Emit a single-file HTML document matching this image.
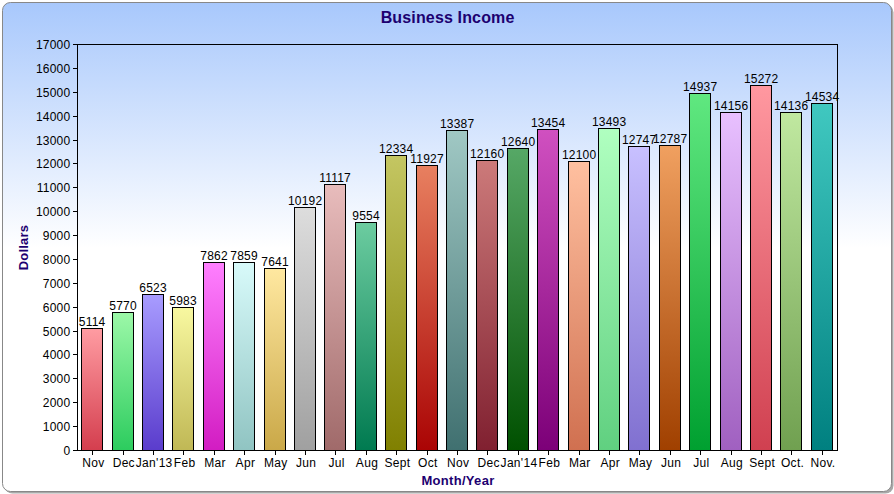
<!DOCTYPE html>
<html><head><meta charset="utf-8"><style>
html,body{margin:0;padding:0;width:894px;height:494px;overflow:hidden;background:#fff;}
svg{display:block;}
text{font-family:"Liberation Sans",sans-serif;}
</style></head><body>
<svg width="894" height="494" viewBox="0 0 894 494">
<defs>
<linearGradient id="bg" x1="0" y1="0" x2="0" y2="1" gradientUnits="objectBoundingBox">
<stop offset="0" stop-color="#a8c8fc"/>
<stop offset="0.503" stop-color="#ffffff"/>
<stop offset="1" stop-color="#ffffff"/>
</linearGradient>
<linearGradient id="g0" x1="0" y1="0" x2="0" y2="1"><stop offset="0" stop-color="#ff9ca2"/><stop offset="1" stop-color="#d43e4e"/></linearGradient>
<linearGradient id="g1" x1="0" y1="0" x2="0" y2="1"><stop offset="0" stop-color="#9cf8a8"/><stop offset="1" stop-color="#2ccc5e"/></linearGradient>
<linearGradient id="g2" x1="0" y1="0" x2="0" y2="1"><stop offset="0" stop-color="#a89cff"/><stop offset="1" stop-color="#5a3ccc"/></linearGradient>
<linearGradient id="g3" x1="0" y1="0" x2="0" y2="1"><stop offset="0" stop-color="#f8f8a0"/><stop offset="1" stop-color="#c0b855"/></linearGradient>
<linearGradient id="g4" x1="0" y1="0" x2="0" y2="1"><stop offset="0" stop-color="#ff80ff"/><stop offset="1" stop-color="#d21cc2"/></linearGradient>
<linearGradient id="g5" x1="0" y1="0" x2="0" y2="1"><stop offset="0" stop-color="#d8fafa"/><stop offset="1" stop-color="#90c4c2"/></linearGradient>
<linearGradient id="g6" x1="0" y1="0" x2="0" y2="1"><stop offset="0" stop-color="#ffe8a0"/><stop offset="1" stop-color="#caa848"/></linearGradient>
<linearGradient id="g7" x1="0" y1="0" x2="0" y2="1"><stop offset="0" stop-color="#dddddd"/><stop offset="1" stop-color="#a0a0a0"/></linearGradient>
<linearGradient id="g8" x1="0" y1="0" x2="0" y2="1"><stop offset="0" stop-color="#e8bcbc"/><stop offset="1" stop-color="#a06a6a"/></linearGradient>
<linearGradient id="g9" x1="0" y1="0" x2="0" y2="1"><stop offset="0" stop-color="#6ccca0"/><stop offset="1" stop-color="#007a50"/></linearGradient>
<linearGradient id="g10" x1="0" y1="0" x2="0" y2="1"><stop offset="0" stop-color="#c4c662"/><stop offset="1" stop-color="#808000"/></linearGradient>
<linearGradient id="g11" x1="0" y1="0" x2="0" y2="1"><stop offset="0" stop-color="#e88060"/><stop offset="1" stop-color="#aa0404"/></linearGradient>
<linearGradient id="g12" x1="0" y1="0" x2="0" y2="1"><stop offset="0" stop-color="#a0c8c4"/><stop offset="1" stop-color="#407070"/></linearGradient>
<linearGradient id="g13" x1="0" y1="0" x2="0" y2="1"><stop offset="0" stop-color="#cc7a7a"/><stop offset="1" stop-color="#802030"/></linearGradient>
<linearGradient id="g14" x1="0" y1="0" x2="0" y2="1"><stop offset="0" stop-color="#56a866"/><stop offset="1" stop-color="#005000"/></linearGradient>
<linearGradient id="g15" x1="0" y1="0" x2="0" y2="1"><stop offset="0" stop-color="#d050c0"/><stop offset="1" stop-color="#7c0078"/></linearGradient>
<linearGradient id="g16" x1="0" y1="0" x2="0" y2="1"><stop offset="0" stop-color="#ffc0a0"/><stop offset="1" stop-color="#d07050"/></linearGradient>
<linearGradient id="g17" x1="0" y1="0" x2="0" y2="1"><stop offset="0" stop-color="#b0ffc0"/><stop offset="1" stop-color="#60d080"/></linearGradient>
<linearGradient id="g18" x1="0" y1="0" x2="0" y2="1"><stop offset="0" stop-color="#c8c0ff"/><stop offset="1" stop-color="#8070d0"/></linearGradient>
<linearGradient id="g19" x1="0" y1="0" x2="0" y2="1"><stop offset="0" stop-color="#f0a060"/><stop offset="1" stop-color="#a04000"/></linearGradient>
<linearGradient id="g20" x1="0" y1="0" x2="0" y2="1"><stop offset="0" stop-color="#60e880"/><stop offset="1" stop-color="#00a030"/></linearGradient>
<linearGradient id="g21" x1="0" y1="0" x2="0" y2="1"><stop offset="0" stop-color="#e8c0ff"/><stop offset="1" stop-color="#a060c0"/></linearGradient>
<linearGradient id="g22" x1="0" y1="0" x2="0" y2="1"><stop offset="0" stop-color="#ff98a0"/><stop offset="1" stop-color="#d04050"/></linearGradient>
<linearGradient id="g23" x1="0" y1="0" x2="0" y2="1"><stop offset="0" stop-color="#c0e8a0"/><stop offset="1" stop-color="#70a050"/></linearGradient>
<linearGradient id="g24" x1="0" y1="0" x2="0" y2="1"><stop offset="0" stop-color="#40c8c0"/><stop offset="1" stop-color="#008080"/></linearGradient>
</defs>
<rect x="4.5" y="4.5" width="889" height="489" rx="8" ry="8" fill="#a8a8a8"/>
<rect x="2.5" y="2.5" width="889" height="489" rx="8" ry="8" fill="url(#bg)" stroke="#888" stroke-width="1"/>
<text x="447.6" y="23" text-anchor="middle" font-size="16" font-weight="bold" letter-spacing="0.15" fill="#1c0070">Business Income</text>
<rect x="81.5" y="328.5" width="21" height="122" fill="url(#g0)" stroke="#000" stroke-width="1"/>
<text x="92.1" y="326" text-anchor="middle" font-size="12" letter-spacing="0.2" fill="#000">5114</text>
<rect x="112.5" y="312.5" width="21" height="138" fill="url(#g1)" stroke="#000" stroke-width="1"/>
<text x="123.1" y="310" text-anchor="middle" font-size="12" letter-spacing="0.2" fill="#000">5770</text>
<rect x="142.5" y="294.5" width="21" height="156" fill="url(#g2)" stroke="#000" stroke-width="1"/>
<text x="153.1" y="292" text-anchor="middle" font-size="12" letter-spacing="0.2" fill="#000">6523</text>
<rect x="172.5" y="307.5" width="21" height="143" fill="url(#g3)" stroke="#000" stroke-width="1"/>
<text x="183.1" y="305" text-anchor="middle" font-size="12" letter-spacing="0.2" fill="#000">5983</text>
<rect x="203.5" y="262.5" width="21" height="188" fill="url(#g4)" stroke="#000" stroke-width="1"/>
<text x="214.1" y="260" text-anchor="middle" font-size="12" letter-spacing="0.2" fill="#000">7862</text>
<rect x="233.5" y="262.5" width="21" height="188" fill="url(#g5)" stroke="#000" stroke-width="1"/>
<text x="244.1" y="260" text-anchor="middle" font-size="12" letter-spacing="0.2" fill="#000">7859</text>
<rect x="264.5" y="268.5" width="21" height="182" fill="url(#g6)" stroke="#000" stroke-width="1"/>
<text x="275.1" y="266" text-anchor="middle" font-size="12" letter-spacing="0.2" fill="#000">7641</text>
<rect x="294.5" y="207.5" width="21" height="243" fill="url(#g7)" stroke="#000" stroke-width="1"/>
<text x="305.1" y="205" text-anchor="middle" font-size="12" letter-spacing="0.2" fill="#000">10192</text>
<rect x="324.5" y="184.5" width="21" height="266" fill="url(#g8)" stroke="#000" stroke-width="1"/>
<text x="335.1" y="182" text-anchor="middle" font-size="12" letter-spacing="0.2" fill="#000">11117</text>
<rect x="355.5" y="222.5" width="21" height="228" fill="url(#g9)" stroke="#000" stroke-width="1"/>
<text x="366.1" y="220" text-anchor="middle" font-size="12" letter-spacing="0.2" fill="#000">9554</text>
<rect x="385.5" y="155.5" width="21" height="295" fill="url(#g10)" stroke="#000" stroke-width="1"/>
<text x="396.1" y="153" text-anchor="middle" font-size="12" letter-spacing="0.2" fill="#000">12334</text>
<rect x="416.5" y="165.5" width="21" height="285" fill="url(#g11)" stroke="#000" stroke-width="1"/>
<text x="427.1" y="163" text-anchor="middle" font-size="12" letter-spacing="0.2" fill="#000">11927</text>
<rect x="446.5" y="130.5" width="21" height="320" fill="url(#g12)" stroke="#000" stroke-width="1"/>
<text x="457.1" y="128" text-anchor="middle" font-size="12" letter-spacing="0.2" fill="#000">13387</text>
<rect x="476.5" y="160.5" width="21" height="290" fill="url(#g13)" stroke="#000" stroke-width="1"/>
<text x="487.1" y="158" text-anchor="middle" font-size="12" letter-spacing="0.2" fill="#000">12160</text>
<rect x="507.5" y="148.5" width="21" height="302" fill="url(#g14)" stroke="#000" stroke-width="1"/>
<text x="518.1" y="146" text-anchor="middle" font-size="12" letter-spacing="0.2" fill="#000">12640</text>
<rect x="537.5" y="129.5" width="21" height="321" fill="url(#g15)" stroke="#000" stroke-width="1"/>
<text x="548.1" y="127" text-anchor="middle" font-size="12" letter-spacing="0.2" fill="#000">13454</text>
<rect x="568.5" y="161.5" width="21" height="289" fill="url(#g16)" stroke="#000" stroke-width="1"/>
<text x="579.1" y="159" text-anchor="middle" font-size="12" letter-spacing="0.2" fill="#000">12100</text>
<rect x="598.5" y="128.5" width="21" height="322" fill="url(#g17)" stroke="#000" stroke-width="1"/>
<text x="609.1" y="126" text-anchor="middle" font-size="12" letter-spacing="0.2" fill="#000">13493</text>
<rect x="628.5" y="146.5" width="21" height="304" fill="url(#g18)" stroke="#000" stroke-width="1"/>
<text x="639.1" y="144" text-anchor="middle" font-size="12" letter-spacing="0.2" fill="#000">12747</text>
<rect x="659.5" y="145.5" width="21" height="305" fill="url(#g19)" stroke="#000" stroke-width="1"/>
<text x="670.1" y="143" text-anchor="middle" font-size="12" letter-spacing="0.2" fill="#000">12787</text>
<rect x="689.5" y="93.5" width="21" height="357" fill="url(#g20)" stroke="#000" stroke-width="1"/>
<text x="700.1" y="91" text-anchor="middle" font-size="12" letter-spacing="0.2" fill="#000">14937</text>
<rect x="720.5" y="112.5" width="21" height="338" fill="url(#g21)" stroke="#000" stroke-width="1"/>
<text x="731.1" y="110" text-anchor="middle" font-size="12" letter-spacing="0.2" fill="#000">14156</text>
<rect x="750.5" y="85.5" width="21" height="365" fill="url(#g22)" stroke="#000" stroke-width="1"/>
<text x="761.1" y="83" text-anchor="middle" font-size="12" letter-spacing="0.2" fill="#000">15272</text>
<rect x="780.5" y="112.5" width="21" height="338" fill="url(#g23)" stroke="#000" stroke-width="1"/>
<text x="791.1" y="110" text-anchor="middle" font-size="12" letter-spacing="0.2" fill="#000">14136</text>
<rect x="811.5" y="103.5" width="21" height="347" fill="url(#g24)" stroke="#000" stroke-width="1"/>
<text x="822.1" y="101" text-anchor="middle" font-size="12" letter-spacing="0.2" fill="#000">14534</text>
<g stroke="#000" stroke-width="1" shape-rendering="crispEdges">
<path d="M73 450.5H837.5V44.5H77.5V450.5" fill="none"/>
<path d="M73 450.5H77"/>
<path d="M73 426.5H77"/>
<path d="M73 402.5H77"/>
<path d="M73 378.5H77"/>
<path d="M73 354.5H77"/>
<path d="M73 331.5H77"/>
<path d="M73 307.5H77"/>
<path d="M73 283.5H77"/>
<path d="M73 259.5H77"/>
<path d="M73 235.5H77"/>
<path d="M73 211.5H77"/>
<path d="M73 187.5H77"/>
<path d="M73 163.5H77"/>
<path d="M73 140.5H77"/>
<path d="M73 116.5H77"/>
<path d="M73 92.5H77"/>
<path d="M73 68.5H77"/>
<path d="M73 44.5H77"/>
<path d="M92.5 451V455"/>
<path d="M123.5 451V455"/>
<path d="M153.5 451V455"/>
<path d="M183.5 451V455"/>
<path d="M214.5 451V455"/>
<path d="M244.5 451V455"/>
<path d="M275.5 451V455"/>
<path d="M305.5 451V455"/>
<path d="M335.5 451V455"/>
<path d="M366.5 451V455"/>
<path d="M396.5 451V455"/>
<path d="M427.5 451V455"/>
<path d="M457.5 451V455"/>
<path d="M487.5 451V455"/>
<path d="M518.5 451V455"/>
<path d="M548.5 451V455"/>
<path d="M579.5 451V455"/>
<path d="M609.5 451V455"/>
<path d="M639.5 451V455"/>
<path d="M670.5 451V455"/>
<path d="M700.5 451V455"/>
<path d="M731.5 451V455"/>
<path d="M761.5 451V455"/>
<path d="M791.5 451V455"/>
<path d="M822.5 451V455"/>
</g>
<text x="70.3" y="454.5" text-anchor="end" font-size="12" letter-spacing="0.2" fill="#000">0</text>
<text x="70.3" y="430.5" text-anchor="end" font-size="12" letter-spacing="0.2" fill="#000">1000</text>
<text x="70.3" y="406.5" text-anchor="end" font-size="12" letter-spacing="0.2" fill="#000">2000</text>
<text x="70.3" y="382.5" text-anchor="end" font-size="12" letter-spacing="0.2" fill="#000">3000</text>
<text x="70.3" y="358.5" text-anchor="end" font-size="12" letter-spacing="0.2" fill="#000">4000</text>
<text x="70.3" y="335.5" text-anchor="end" font-size="12" letter-spacing="0.2" fill="#000">5000</text>
<text x="70.3" y="311.5" text-anchor="end" font-size="12" letter-spacing="0.2" fill="#000">6000</text>
<text x="70.3" y="287.5" text-anchor="end" font-size="12" letter-spacing="0.2" fill="#000">7000</text>
<text x="70.3" y="263.5" text-anchor="end" font-size="12" letter-spacing="0.2" fill="#000">8000</text>
<text x="70.3" y="239.5" text-anchor="end" font-size="12" letter-spacing="0.2" fill="#000">9000</text>
<text x="70.3" y="215.5" text-anchor="end" font-size="12" letter-spacing="0.2" fill="#000">10000</text>
<text x="70.3" y="191.5" text-anchor="end" font-size="12" letter-spacing="0.2" fill="#000">11000</text>
<text x="70.3" y="167.5" text-anchor="end" font-size="12" letter-spacing="0.2" fill="#000">12000</text>
<text x="70.3" y="144.5" text-anchor="end" font-size="12" letter-spacing="0.2" fill="#000">13000</text>
<text x="70.3" y="120.5" text-anchor="end" font-size="12" letter-spacing="0.2" fill="#000">14000</text>
<text x="70.3" y="96.5" text-anchor="end" font-size="12" letter-spacing="0.2" fill="#000">15000</text>
<text x="70.3" y="72.5" text-anchor="end" font-size="12" letter-spacing="0.2" fill="#000">16000</text>
<text x="70.3" y="48.5" text-anchor="end" font-size="12" letter-spacing="0.2" fill="#000">17000</text>
<text x="93.4" y="467" text-anchor="middle" font-size="12" letter-spacing="0.3" fill="#000">Nov</text>
<text x="123.8" y="467" text-anchor="middle" font-size="12" letter-spacing="0.3" fill="#000">Dec</text>
<text x="154.2" y="467" text-anchor="middle" font-size="12" letter-spacing="0.3" fill="#000">Jan'13</text>
<text x="184.6" y="467" text-anchor="middle" font-size="12" letter-spacing="0.3" fill="#000">Feb</text>
<text x="215.0" y="467" text-anchor="middle" font-size="12" letter-spacing="0.3" fill="#000">Mar</text>
<text x="245.4" y="467" text-anchor="middle" font-size="12" letter-spacing="0.3" fill="#000">Apr</text>
<text x="275.8" y="467" text-anchor="middle" font-size="12" letter-spacing="0.3" fill="#000">May</text>
<text x="306.2" y="467" text-anchor="middle" font-size="12" letter-spacing="0.3" fill="#000">Jun</text>
<text x="336.6" y="467" text-anchor="middle" font-size="12" letter-spacing="0.3" fill="#000">Jul</text>
<text x="367.0" y="467" text-anchor="middle" font-size="12" letter-spacing="0.3" fill="#000">Aug</text>
<text x="397.4" y="467" text-anchor="middle" font-size="12" letter-spacing="0.3" fill="#000">Sept</text>
<text x="427.8" y="467" text-anchor="middle" font-size="12" letter-spacing="0.3" fill="#000">Oct</text>
<text x="458.2" y="467" text-anchor="middle" font-size="12" letter-spacing="0.3" fill="#000">Nov</text>
<text x="488.6" y="467" text-anchor="middle" font-size="12" letter-spacing="0.3" fill="#000">Dec</text>
<text x="519.0" y="467" text-anchor="middle" font-size="12" letter-spacing="0.3" fill="#000">Jan'14</text>
<text x="549.4" y="467" text-anchor="middle" font-size="12" letter-spacing="0.3" fill="#000">Feb</text>
<text x="579.8" y="467" text-anchor="middle" font-size="12" letter-spacing="0.3" fill="#000">Mar</text>
<text x="610.2" y="467" text-anchor="middle" font-size="12" letter-spacing="0.3" fill="#000">Apr</text>
<text x="640.6" y="467" text-anchor="middle" font-size="12" letter-spacing="0.3" fill="#000">May</text>
<text x="671.0" y="467" text-anchor="middle" font-size="12" letter-spacing="0.3" fill="#000">Jun</text>
<text x="701.4" y="467" text-anchor="middle" font-size="12" letter-spacing="0.3" fill="#000">Jul</text>
<text x="731.8" y="467" text-anchor="middle" font-size="12" letter-spacing="0.3" fill="#000">Aug</text>
<text x="762.2" y="467" text-anchor="middle" font-size="12" letter-spacing="0.3" fill="#000">Sept</text>
<text x="792.6" y="467" text-anchor="middle" font-size="12" letter-spacing="0.3" fill="#000">Oct.</text>
<text x="823.0" y="467" text-anchor="middle" font-size="12" letter-spacing="0.3" fill="#000">Nov.</text>
<text x="458" y="485" text-anchor="middle" font-size="13" font-weight="bold" letter-spacing="0.3" fill="#1c0070">Month/Year</text>
<text transform="translate(28 247.5) rotate(-90)" text-anchor="middle" font-size="13" font-weight="bold" letter-spacing="0.2" fill="#1c0070">Dollars</text>
</svg></body></html>
